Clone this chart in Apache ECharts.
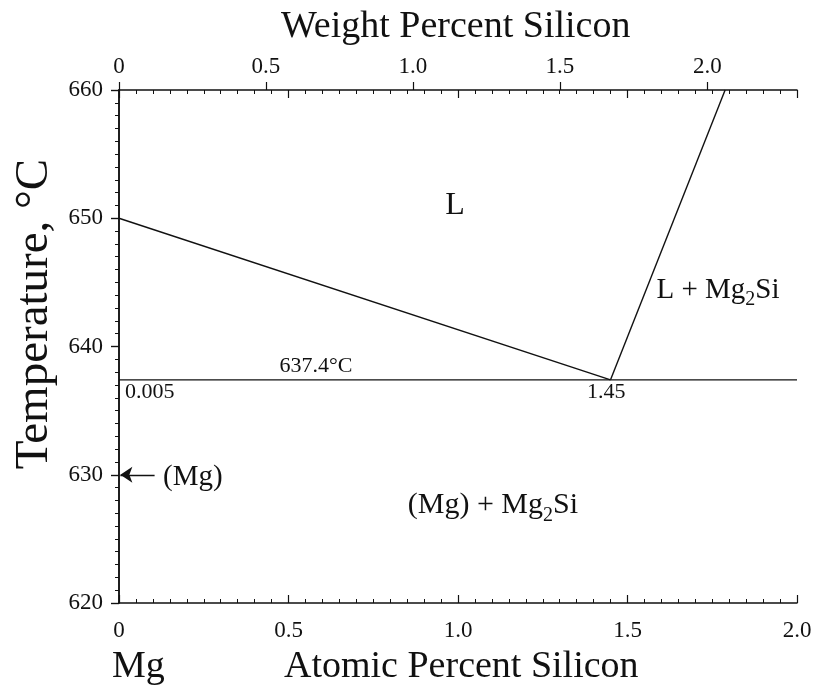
<!DOCTYPE html>
<html><head><meta charset="utf-8">
<script src="https://cdn.jsdelivr.net/npm/echarts@6/dist/echarts.min.js"></script>
<style>html,body{margin:0;padding:0;background:#fff}#c{width:819px;height:696px}</style>
</head><body><div id="c"></div>
<script>
// Axis ranges / ticks
const atomicRange = [0, 2.0];
const tempRange = [620, 660];
const weightTickValues = [0, 0.5, 1.0, 1.5, 2.0];
const weightTickLabels = ['0', '0.5', '1.0', '1.5', '2.0'];
// Phase boundaries (atomic % Si, °C)
const liquidusMg = [[0, 650], [1.45, 637.4]];
const liquidusMg2Si = [[1.45, 637.4], [1.788, 660]];
const eutectic = [[0, 637.4], [2.0, 637.4]];
const arrowFrom = [0.105, 630];
const arrowTo = [0.004, 630];
// Text annotations: [x, y, text, fontSize, align]
const annotations = [
  [0.991, 651.0, 'L', 32, 'center'],
  [1.767, 644.4, 'L + Mg{s|2}Si', 29, 'center'],
  [0.581, 638.5, '637.4°C', 22, 'center'],
  [0.018, 636.4, '0.005', 22, 'left'],
  [1.437, 636.4, '1.45', 22, 'center'],
  [0.13, 629.8, '(Mg)', 29, 'left'],
  [1.103, 627.6, '(Mg) + Mg{s|2}Si', 30, 'center']
];

const MSi = 28.086, MMg = 24.305;
function wtToAt(w) { const a = w / MSi, b = (100 - w) / MMg; return a / (a + b) * 100; }
const weightTickPos = weightTickValues.map(wtToAt);

const FONT = '"Liberation Serif", "Times New Roman", serif';
const C = '#111111';
const chart = echarts.init(document.getElementById('c'), null, {renderer: 'canvas'});

function lineSeries(data) {
  return {type: 'line', data: data, xAxisIndex: 0, yAxisIndex: 0, symbol: 'none',
    silent: true, animation: false, lineStyle: {color: C, width: 1.4}};
}

const textSeries = annotations.map(a => ({
  type: 'scatter', xAxisIndex: 0, yAxisIndex: 0, symbolSize: 0, silent: true, animation: false,
  itemStyle: {opacity: 1, color: C},
  data: [[a[0], a[1]]],
  label: {
    show: true, position: a[4] === 'left' ? 'right' : 'inside', distance: 0, opacity: 1,
    formatter: a[2], color: C, fontFamily: FONT, fontSize: a[3], textBorderWidth: 0,
    rich: {s: {fontSize: Math.round(a[3] * 0.68), fontFamily: FONT, color: C, verticalAlign: 'bottom', lineHeight: a[3] + 10}}
  }
}));

const option = {
  animation: false,
  backgroundColor: '#fff',
  grid: [
    {left: 119, top: 90, width: 678, height: 513},
    {left: 119, top: 90, width: 678, height: 513}
  ],
  xAxis: [
    { gridIndex: 0, type: 'value', position: 'bottom', min: atomicRange[0], max: atomicRange[1], interval: 0.5,
      axisLine: {show: true, lineStyle: {color: C, width: 1.5}},
      axisTick: {show: true, inside: true, length: 8, lineStyle: {color: C, width: 1.2}},
      minorTick: {show: true, splitNumber: 10, length: 4, lineStyle: {color: C, width: 1}},
      splitLine: {show: false},
      axisLabel: {show: true, margin: 16, color: C, fontFamily: FONT, fontSize: 23,
        formatter: v => v === 0 ? '0' : v.toFixed(1)} },
    { gridIndex: 0, type: 'value', position: 'top', min: atomicRange[0], max: atomicRange[1],
      axisLine: {show: true, lineStyle: {color: C, width: 1.5}},
      axisTick: {show: true, inside: false, length: 8, customValues: weightTickPos, lineStyle: {color: C, width: 1.2}},
      splitLine: {show: false},
      axisLabel: {show: true, margin: 12, color: C, fontFamily: FONT, fontSize: 23, customValues: weightTickPos,
        formatter: v => {
          let best = 0, d = 1e9;
          weightTickPos.forEach((p, i) => { if (Math.abs(p - v) < d) { d = Math.abs(p - v); best = i; } });
          return weightTickLabels[best];
        }} },
    { gridIndex: 1, type: 'value', position: 'top', min: atomicRange[0], max: atomicRange[1], interval: 0.5,
      axisLine: {show: false},
      axisTick: {show: true, inside: true, length: 8, lineStyle: {color: C, width: 1.2}},
      minorTick: {show: true, splitNumber: 10, length: 4, lineStyle: {color: C, width: 1}},
      splitLine: {show: false}, axisLabel: {show: false} }
  ],
  yAxis: [
    { gridIndex: 0, type: 'value', position: 'left', min: tempRange[0], max: tempRange[1], interval: 10,
      axisLine: {show: true, lineStyle: {color: C, width: 1.5}},
      axisTick: {show: true, inside: false, length: 8, lineStyle: {color: C, width: 1.2}},
      minorTick: {show: true, splitNumber: 10, length: 4, lineStyle: {color: C, width: 1}},
      splitLine: {show: false},
      axisLabel: {show: true, margin: 16, color: C, fontFamily: FONT, fontSize: 23} },
    { gridIndex: 1, type: 'value', position: 'right', min: tempRange[0], max: tempRange[1], interval: 10,
      axisLine: {show: true, lineStyle: {color: C, width: 1.5}},
      axisTick: {show: true, inside: true, length: 8, lineStyle: {color: C, width: 1.2}},
      minorTick: {show: true, splitNumber: 10, length: 4, lineStyle: {color: C, width: 1}},
      splitLine: {show: false}, axisLabel: {show: false} }
  ],
  graphic: [
    {type: 'text', left: 281, top: 8, style: {text: 'Weight Percent Silicon', font: '38px ' + FONT, fill: C}},
    {type: 'text', left: 112, top: 648, style: {text: 'Mg', font: '38px ' + FONT, fill: C}},
    {type: 'text', left: 284, top: 648, style: {text: 'Atomic Percent Silicon', font: '38px ' + FONT, fill: C}},
    {type: 'text', x: 35, y: 314, rotation: Math.PI / 2,
      style: {text: 'Temperature, °C', font: '47px ' + FONT, fill: C, align: 'center', verticalAlign: 'middle'}}
  ],
  series: [
    lineSeries(liquidusMg),
    lineSeries(liquidusMg2Si),
    lineSeries(eutectic),
    { type: 'line', data: [], xAxisIndex: 0, yAxisIndex: 0, silent: true, animation: false,
      markLine: { silent: true, animation: false, symbol: ['none', 'arrow'], symbolSize: 12,
        label: {show: false}, lineStyle: {color: C, width: 1.3, type: 'solid'},
        itemStyle: {color: C},
        data: [[{coord: arrowFrom}, {coord: arrowTo}]] } }
  ].concat(textSeries)
};
chart.setOption(option);
</script>
</body></html>
